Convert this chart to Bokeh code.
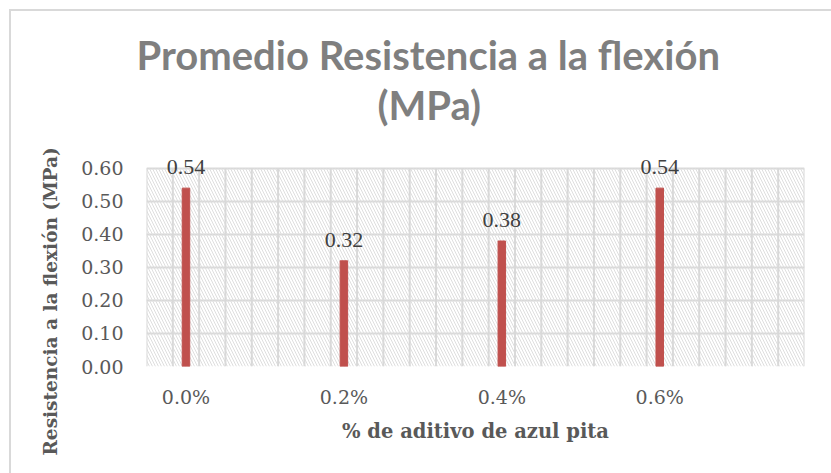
from bokeh.plotting import figure
from bokeh.models import (Range1d, FixedTicker, NumeralTickFormatter, BoxAnnotation,
                          LabelSet, ColumnDataSource, Title)
from bokeh.embed import file_html
from bokeh.resources import INLINE

# Additive dosage (%) and mean flexural strength (MPa)
dosage = [0.0, 0.2, 0.4, 0.6]
dosage_labels = ["0.0%", "0.2%", "0.4%", "0.6%"]
strength = [0.54, 0.32, 0.38, 0.54]
strength_labels = ["0.54", "0.32", "0.38", "0.54"]
y_ticks = [0.0, 0.1, 0.2, 0.3, 0.4, 0.5, 0.6]

title_line1 = "Promedio Resistencia a la flexión"
title_line2 = "(MPa)"
x_title = "% de aditivo de azul pita"
y_title = "Resistencia a la flexión (MPa)"

GRID = "#d9d9d9"
BAR = "#C0504D"
SERIF = "DejaVu Serif"

# background cell grid: 6 cells per 0.2 % step, starting 1.5 cells left of 0.0 %
cell = 0.2 / 6
x_start = dosage[0] - 1.5 * cell
n_cells = 25
x_end = x_start + n_cells * cell
cell_edges = [x_start + k * cell for k in range(n_cells + 1)]
y_top = y_ticks[-1]
y_room = 0.06  # blank space above the plot area so the top labels are not cut

src = ColumnDataSource(dict(x=dosage, y=strength, lab=strength_labels))

border_css = ("linear-gradient(#d9d9d9,#d9d9d9) 9px 9px / 2px 100% no-repeat, "
              "linear-gradient(#d9d9d9,#d9d9d9) 9px 9px / 100% 2px no-repeat, white")
p = figure(width=831, height=473, styles={"background": border_css},
           output_backend="svg", toolbar_location=None,
           x_range=Range1d(x_start, x_end), y_range=Range1d(0, y_top + y_room),
           min_border_left=146, min_border_right=27, min_border_top=148,
           min_border_bottom=107)
p.background_fill_color = "white"
p.border_fill_color = None
p.outline_line_color = None

# hatched plot area
p.add_layout(BoxAnnotation(top=y_top, fill_alpha=0, line_alpha=0, hatch_pattern="\\",
                           hatch_color="#dedede", hatch_scale=6, hatch_weight=1,
                           level="underlay"))

# cell grid: vertical cell edges and horizontal lines at each tick
p.xgrid.visible = False
p.ygrid.ticker = FixedTicker(ticks=y_ticks)
p.ygrid.grid_line_color = GRID
p.ygrid.grid_line_width = 2
p.segment(x0=cell_edges, y0=[0] * len(cell_edges), x1=cell_edges,
          y1=[y_top] * len(cell_edges), line_color=GRID, line_width=2)

p.vbar(x="x", top="y", width=0.0095, color=BAR, source=src)
p.add_layout(LabelSet(x="x", y="y", text="lab", source=src, text_align="center",
                      text_baseline="bottom", y_offset=14, text_font=SERIF,
                      text_font_size="22px", text_color="#404040"))

p.xaxis.ticker = FixedTicker(ticks=dosage)
p.xaxis.major_label_overrides = {d: l for d, l in zip(dosage, dosage_labels)}
p.yaxis.ticker = FixedTicker(ticks=y_ticks)
p.yaxis.formatter = NumeralTickFormatter(format="0.00")
for ax in (p.xaxis[0], p.yaxis[0]):
    ax.axis_line_color = None
    ax.major_tick_line_color = None
    ax.minor_tick_line_color = None
    ax.major_label_text_font = SERIF
    ax.major_label_text_font_size = "19px"
    ax.major_label_text_color = "#595959"
p.xaxis.major_label_standoff = 13
p.yaxis.major_label_standoff = 17

p.xaxis.axis_label = x_title
p.xaxis.axis_label_text_font = SERIF
p.xaxis.axis_label_text_font_style = "bold"
p.xaxis.axis_label_text_font_size = "19.5px"
p.xaxis.axis_label_text_color = "#595959"
p.xaxis.axis_label_standoff = 9

# y title, starting below the plot area like the chart's own layout
p.add_layout(Title(text=y_title, align="left", offset=-89, standoff=35,
                   text_font=SERIF, text_font_style="bold", text_font_size="18.5px",
                   text_color="#595959"), "left")

# chart title, two lines; the first one added sits nearest to the plot
p.add_layout(Title(text=title_line2, align="left", offset=231, standoff=40,
                   text_font="Lato", text_font_style="bold", text_font_size="40px",
                   text_color="#7f7f7f"), "above")
p.add_layout(Title(text=title_line1, align="left", offset=-10, standoff=-40,
                   text_font="Lato", text_font_style="bold", text_font_size="40px",
                   text_color="#7f7f7f"), "above")

open("out.html", "w").write(file_html(p, INLINE))
